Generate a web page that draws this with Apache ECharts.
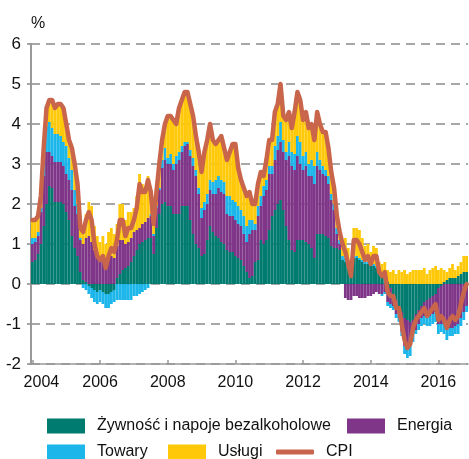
<!DOCTYPE html>
<html>
<head>
<meta charset="utf-8">
<script src="https://cdn.jsdelivr.net/npm/echarts@6/dist/echarts.min.js"></script>
<style>
  html, body { margin: 0; padding: 0; background: #fff; }
  #chart { width: 469px; height: 459px; }
</style>
</head>
<body>
<div id="chart"></div>
<script>
// monthly data, Jan 2004 - Nov 2016
const years = [2004, 2005, 2006, 2007, 2008, 2009, 2010, 2011, 2012, 2013, 2014, 2015, 2016];
const yearTicks = ['2004', '2006', '2008', '2010', '2012', '2014', '2016'];

const cpi = [
  1.6, 1.6, 1.7, 2.2, 3.4, 4.4, 4.6, 4.6, 4.4, 4.5, 4.5, 4.4,
  4.0, 3.6, 3.4, 3.0, 2.5, 1.4, 1.3, 1.6, 1.8, 1.6, 1.0, 0.7,
  0.6, 0.7, 0.4, 0.7, 0.9, 0.8, 1.1, 1.6, 1.6, 1.2, 1.4, 1.4,
  1.6, 1.9, 2.5, 2.3, 2.3, 2.6, 2.3, 1.5, 2.3, 3.0, 3.6, 4.0,
  4.2, 4.2, 4.1, 4.0, 4.4, 4.6, 4.8, 4.8, 4.5, 4.2, 3.7, 3.3,
  2.8, 3.3, 3.6, 4.0, 3.6, 3.5, 3.6, 3.7, 3.4, 3.1, 3.3, 3.5,
  3.5, 2.9, 2.6, 2.4, 2.2, 2.3, 2.0, 2.0, 2.5, 2.8, 2.7, 3.1,
  3.6, 3.6, 4.3, 4.5, 5.0, 4.2, 4.1, 4.3, 3.9, 4.3, 4.8, 4.6,
  4.1, 4.3, 3.9, 4.0, 3.6, 4.3, 4.0, 3.8, 3.8, 3.4, 2.8, 2.4,
  1.7, 1.3, 1.0, 0.8, 0.5, 0.2, 1.1, 1.1, 1.0, 0.8, 0.6, 0.7,
  0.5, 0.7, 0.7, 0.3, 0.2, 0.3, -0.2, -0.3, -0.3, -0.6, -0.6, -1.0,
  -1.4, -1.6, -1.5, -1.1, -0.9, -0.8, -0.7, -0.6, -0.8, -0.7, -0.6, -0.5,
  -0.9, -0.8, -0.9, -1.1, -0.9, -0.8, -0.9, -0.8, -0.5, -0.2, 0.0
];

const food = [
  0.55, 0.6, 0.75, 1.0, 1.45, 2.0, 2.45, 2.4, 2.05, 2.05, 2.05, 2.0,
  1.8, 1.6, 1.2, 0.9, 0.7, 0.3, 0.1, 0.05, -0.05, -0.1, -0.15, -0.2,
  -0.15, -0.2, -0.25, -0.25, -0.2, -0.15, 0.15, 0.25, 0.35, 0.4, 0.45, 0.55,
  0.7, 0.85, 1.0, 1.05, 1.1, 1.15, 1.15, 0.75, 1.4, 1.75, 2.0, 2.05,
  1.95, 1.95, 1.75, 1.75, 1.75, 1.95, 1.95, 1.95, 1.6, 1.25, 1.0, 0.9,
  0.7, 0.75, 1.1, 1.45, 1.3, 1.2, 1.15, 1.05, 1.0, 0.85, 0.8, 0.8,
  0.7, 0.65, 0.6, 0.45, 0.3, 0.15, 0.2, 0.55, 0.6, 1.1, 1.0, 1.1,
  1.35, 1.7, 1.85, 2.0, 2.1, 1.85, 1.45, 1.1, 0.85, 0.8, 1.1, 1.1,
  1.1, 1.05, 1.0, 0.9, 0.65, 1.25, 1.25, 1.25, 1.2, 1.15, 0.95, 0.9,
  0.9, 0.85, 0.6, 0.55, 0.5, 0.45, 0.65, 0.65, 0.6, 0.55, 0.5, 0.5,
  0.45, 0.45, 0.4, 0.35, 0.3, 0.25, 0.05, -0.1, -0.25, -0.4, -0.55, -0.7,
  -0.85, -0.9, -0.95, -0.9, -0.75, -0.65, -0.55, -0.45, -0.4, -0.35, -0.3, -0.25,
  -0.1, -0.05, 0.05, 0.1, 0.15, 0.15, 0.15, 0.2, 0.25, 0.3, 0.3
];

const energy = [
  0.45, 0.45, 0.45, 0.8, 1.25, 1.3, 0.85, 0.8, 1.0, 1.0, 1.0, 0.95,
  0.95, 1.0, 1.15, 1.05, 1.05, 0.8, 0.9, 1.1, 1.2, 1.05, 0.85, 0.7,
  0.65, 0.65, 0.55, 0.6, 0.7, 0.65, 0.8, 0.85, 0.75, 0.6, 0.6, 0.6,
  0.6, 0.5, 0.4, 0.45, 0.45, 0.5, 0.55, 0.45, 0.5, 0.6, 0.9, 1.05,
  1.05, 1.05, 1.1, 1.25, 1.35, 1.35, 1.5, 1.55, 1.6, 1.7, 1.7, 1.35,
  0.95, 1.1, 0.9, 0.9, 0.95, 1.05, 1.25, 1.25, 1.25, 0.9, 0.9, 0.9,
  0.9, 0.85, 0.85, 0.8, 0.75, 1.1, 1.15, 0.8, 1.1, 0.85, 1.2, 1.25,
  1.4, 1.05, 1.25, 1.35, 1.45, 1.45, 1.65, 2.1, 2.1, 2.05, 2.1, 1.9,
  1.75, 1.9, 1.7, 1.8, 1.85, 1.7, 1.6, 1.5, 1.5, 1.35, 1.15, 0.95,
  0.35, 0.15, 0.0, -0.35, -0.4, -0.4, -0.3, -0.3, -0.35, -0.35, -0.35, -0.3,
  -0.3, -0.25, -0.2, -0.25, -0.25, -0.2, -0.45, -0.4, -0.3, -0.35, -0.3, -0.5,
  -0.7, -0.75, -0.6, -0.35, -0.4, -0.35, -0.3, -0.35, -0.45, -0.45, -0.45, -0.45,
  -0.9, -0.95, -1.0, -1.15, -1.1, -1.1, -1.05, -1.0, -0.85, -0.7, -0.55
];

const goods = [
  0.15, 0.1, 0.1, 0.1, 0.4, 0.65, 0.75, 0.7, 0.7, 0.7, 0.65, 0.6,
  0.7, 0.55, 0.5, 0.4, 0.25, 0.05, -0.1, -0.15, -0.2, -0.25, -0.3, -0.3,
  -0.3, -0.3, -0.35, -0.35, -0.3, -0.3, -0.4, -0.4, -0.4, -0.4, -0.4, -0.4,
  -0.3, -0.3, -0.25, -0.2, -0.15, -0.1, 0.05, 0.05, 0.05, 0.05, 0.2, 0.3,
  0.15, 0.25, 0.15, 0.2, 0.2, 0.15, 0.1, 0.05, 0.15, 0.2, 0.15, 0.15,
  0.25, 0.2, 0.25, 0.25, 0.3, 0.35, 0.3, 0.3, 0.3, 0.45, 0.5, 0.4,
  0.45, 0.45, 0.4, 0.45, 0.4, 0.35, 0.25, 0.15, 0.25, 0.25, 0.25, 0.25,
  0.2, 0.2, 0.35, 0.35, 0.5, 0.3, 0.2, 0.35, 0.35, 0.4, 0.5, 0.55,
  0.35, 0.35, 0.3, 0.4, 0.45, 0.35, 0.25, 0.2, 0.15, 0.2, 0.15, 0.15,
  0.15, 0.1, 0.1, 0.1, 0.05, 0.0, 0.05, 0.05, 0.05, 0.05, 0.05, 0.05,
  0.05, 0.05, 0.05, 0.0, -0.05, -0.05, -0.1, -0.1, -0.1, -0.1, -0.1, -0.1,
  -0.2, -0.2, -0.25, -0.2, -0.1, -0.15, -0.2, -0.2, -0.2, -0.25, -0.25, -0.25,
  -0.25, -0.2, -0.25, -0.25, -0.2, -0.2, -0.2, -0.25, -0.2, -0.2, -0.15
];

const services = [
  0.45, 0.45, 0.4, 0.3, 0.3, 0.45, 0.55, 0.7, 0.65, 0.75, 0.8, 0.85,
  0.55, 0.45, 0.55, 0.65, 0.5, 0.25, 0.4, 0.6, 0.85, 0.9, 0.6, 0.5,
  0.4, 0.55, 0.45, 0.7, 0.7, 0.6, 0.55, 0.9, 0.9, 0.6, 0.75, 0.65,
  0.6, 0.85, 1.35, 1.0, 0.9, 1.05, 0.55, 0.25, 0.35, 0.6, 0.5, 0.6,
  1.05, 0.95, 1.1, 0.8, 1.1, 1.15, 1.25, 1.25, 1.15, 1.05, 0.85, 0.9,
  0.9, 1.25, 1.35, 1.4, 1.05, 0.9, 0.9, 1.1, 0.85, 0.9, 1.1, 1.4,
  1.45, 0.95, 0.75, 0.7, 0.75, 0.7, 0.4, 0.5, 0.55, 0.6, 0.25, 0.5,
  0.65, 0.65, 0.85, 0.8, 0.95, 0.6, 0.8, 0.75, 0.6, 1.05, 1.1, 1.05,
  0.9, 1.0, 0.9, 0.9, 0.65, 1.0, 0.9, 0.85, 0.95, 0.7, 0.55, 0.4,
  0.3, 0.2, 0.3, 0.5, 0.35, 0.15, 0.7, 0.7, 0.7, 0.55, 0.4, 0.45,
  0.3, 0.45, 0.45, 0.2, 0.2, 0.3, 0.3, 0.3, 0.35, 0.25, 0.35, 0.3,
  0.35, 0.25, 0.3, 0.35, 0.35, 0.35, 0.35, 0.4, 0.25, 0.35, 0.4, 0.45,
  0.35, 0.4, 0.3, 0.2, 0.25, 0.35, 0.2, 0.25, 0.3, 0.4, 0.4
];

// category labels YYYY-MM (last month Nov 2016)
const months = [];
years.forEach(y => {
  for (let m = 1; m <= 12; m++) {
    if (months.length < cpi.length) months.push(y + '-' + (m < 10 ? '0' + m : m));
  }
});

const FONT = "'Liberation Sans', Arial, sans-serif";
const colors = {
  food: '#007b6f',
  energy: '#7f3688',
  goods: '#1cb6ea',
  services: '#ffc90a',
  cpi: '#c9654b'
};
const names = ['Żywność i napoje bezalkoholowe', 'Energia', 'Towary', 'Usługi', 'CPI'];

const everyTwoYears = (i) => i % 24 === 0;

const legendItem = (name, left, top, extra) => Object.assign({
  data: [name],
  left: left,
  top: top,
  padding: 0,
  itemWidth: 38,
  itemHeight: 15,
  icon: 'rect',
  selectedMode: false,
  textStyle: { fontFamily: FONT, fontSize: 16, color: '#111', padding: [0, 0, 0, 7] }
}, extra || {});

const barSeries = (name, data, color) => ({
  name: name,
  type: 'bar',
  stack: 'total',
  data: data,
  barCategoryGap: '0%',
  itemStyle: { color: color },
  emphasis: { disabled: true }
});

const chart = echarts.init(document.getElementById('chart'));
chart.setOption({
  animation: false,
  grid: { left: 31, right: 1, top: 44, bottom: 95 },
  legend: [
    legendItem(names[0], 47, 418),
    legendItem(names[1], 347, 418),
    legendItem(names[2], 47, 444),
    legendItem(names[3], 168, 444),
    legendItem(names[4], 276, 444, { icon: 'roundRect', itemHeight: 5 })
  ],
  xAxis: {
    type: 'category',
    data: months,
    axisLine: { onZero: false, lineStyle: { color: '#999', width: 1.5 } },
    axisTick: {
      show: true, inside: true, length: 4, alignWithLabel: true,
      interval: everyTwoYears,
      lineStyle: { color: '#999', width: 1.5 }
    },
    axisLabel: {
      interval: everyTwoYears,
      margin: 11,
      fontFamily: FONT,
      fontSize: 16,
      color: '#111',
      formatter: (v, i) => i === 0 ? '{first|' + yearTicks[0] + '}' : yearTicks[i / 24],
      rich: { first: { fontFamily: FONT, fontSize: 16, color: '#111', padding: [0, 0, 0, 18] } }
    },
    splitLine: { show: false }
  },
  yAxis: {
    type: 'value',
    min: -2,
    max: 6,
    interval: 1,
    name: '%',
    nameLocation: 'end',
    nameGap: 12,
    nameTextStyle: { fontFamily: FONT, fontSize: 16, color: '#111', align: 'left' },
    axisLine: { show: true, lineStyle: { color: '#999', width: 2 } },
    axisTick: { show: true, length: 4, lineStyle: { color: '#8a8a8a', width: 1.5 } },
    axisLabel: { fontFamily: FONT, fontSize: 17, color: '#111', margin: 10 },
    splitLine: { lineStyle: { type: [9, 6], color: '#8a8a8a', width: 1.5 } }
  },
  series: [
    barSeries(names[0], food, colors.food),
    barSeries(names[1], energy, colors.energy),
    barSeries(names[2], goods, colors.goods),
    barSeries(names[3], services, colors.services),
    {
      name: names[4],
      type: 'line',
      data: cpi,
      symbol: 'none',
      z: 5,
      itemStyle: { color: colors.cpi },
      lineStyle: { color: colors.cpi, width: 4.5, join: 'round', cap: 'round' },
      emphasis: { disabled: true }
    }
  ]
});
</script>
</body>
</html>
